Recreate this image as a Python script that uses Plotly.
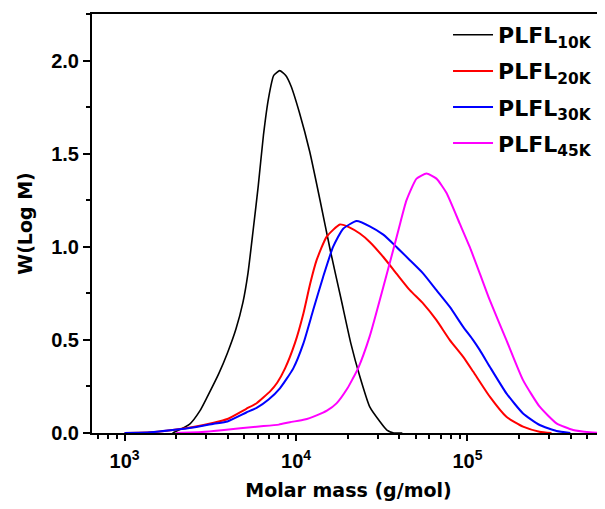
import numpy as np
import plotly.graph_objects as go

logM_10k = [3.28, 3.38, 3.44, 3.48, 3.55, 3.60, 3.65, 3.69, 3.72, 3.75, 3.78, 3.81, 3.84, 3.87,
            3.905, 3.94, 3.97, 4.02, 4.08, 4.14, 4.20, 4.265, 4.32, 4.37, 4.43, 4.49, 4.53, 4.57, 4.62]
w_10k = [0.0, 0.048, 0.12, 0.19, 0.32, 0.43, 0.56, 0.70, 0.86, 1.09, 1.33, 1.60, 1.80, 1.92,
         1.946, 1.92, 1.865, 1.72, 1.51, 1.25, 0.98, 0.71, 0.48, 0.31, 0.14, 0.06, 0.015, 0.0, 0.0]

logM_20k = [3.00, 3.15, 3.28, 3.40, 3.52, 3.60, 3.71, 3.77, 3.85, 3.89, 3.936, 3.993, 4.043, 4.082,
            4.12, 4.178, 4.256, 4.314, 4.372, 4.43, 4.509, 4.586, 4.664, 4.742, 4.819, 4.897,
            4.975, 5.033, 5.13, 5.227, 5.324, 5.42, 5.49]
w_20k = [0.0, 0.004, 0.016, 0.032, 0.055, 0.075, 0.13, 0.16, 0.225, 0.27, 0.347, 0.481, 0.642, 0.80,
         0.928, 1.053, 1.12, 1.103, 1.071, 1.026, 0.945, 0.856, 0.767, 0.695, 0.606, 0.499,
         0.409, 0.33, 0.195, 0.087, 0.034, 0.007, 0.0]

logM_30k = [3.00, 3.15, 3.28, 3.40, 3.52, 3.60, 3.71, 3.77, 3.84, 3.906, 3.984, 4.043, 4.10, 4.158,
            4.216, 4.275, 4.353, 4.43, 4.509, 4.586, 4.664, 4.742, 4.819, 4.897, 4.975, 5.033,
            5.072, 5.13, 5.227, 5.324, 5.421, 5.519, 5.60]
w_30k = [0.0, 0.004, 0.016, 0.03, 0.05, 0.062, 0.11, 0.135, 0.18, 0.24, 0.347, 0.481, 0.66, 0.838,
         0.999, 1.097, 1.138, 1.11, 1.065, 0.999, 0.928, 0.856, 0.767, 0.677, 0.57, 0.499,
         0.445, 0.356, 0.213, 0.105, 0.043, 0.011, 0.0]

logM_45k = [3.30, 3.45, 3.58, 3.77, 3.90, 3.964, 4.05, 4.12, 4.18, 4.236, 4.30, 4.33, 4.362, 4.43,
            4.509, 4.566, 4.60, 4.644, 4.703, 4.761, 4.819, 4.877, 4.955, 5.013, 5.072, 5.13,
            5.227, 5.324, 5.421, 5.519, 5.616, 5.713, 5.80]
w_45k = [0.0, 0.005, 0.016, 0.034, 0.045, 0.058, 0.072, 0.095, 0.12, 0.159, 0.24, 0.29, 0.347, 0.52,
         0.784, 0.98, 1.10, 1.249, 1.366, 1.393, 1.366, 1.29, 1.124, 0.999, 0.856, 0.713,
         0.499, 0.284, 0.141, 0.052, 0.016, 0.004, 0.0]

names = ["PLFL<sub>10K</sub>", "PLFL<sub>20K</sub>", "PLFL<sub>30K</sub>", "PLFL<sub>45K</sub>"]
colors = ["#000000", "#ff0000", "#0000ff", "#ff00ff"]
widths = [1.6, 2.0, 2.0, 2.0]
series = [(logM_10k, w_10k), (logM_20k, w_20k), (logM_30k, w_30k), (logM_45k, w_45k)]

x_tickvals = [1e3, 1e4, 1e5]
x_ticktext = ["10<sup>3</sup>", "10<sup>4</sup>", "10<sup>5</sup>"]
x_minor = [700, 800, 900, 2000, 3000, 4000, 5000, 6000, 7000, 8000, 9000,
           20000, 30000, 40000, 50000, 60000, 70000, 80000, 90000,
           200000, 300000, 400000, 500000, 600000]

fig = go.Figure()
for i, ((lm, w), nm, c, lw) in enumerate(zip(series, names, colors, widths)):
    fig.add_trace(go.Scatter(
        x=10 ** np.array(lm), y=w, mode="lines", name=nm, legendgroup=f"g{i}",
        line=dict(color=c, width=lw, shape="spline", smoothing=0.5),
    ))

tick_font = dict(family="Liberation Sans, Arial", size=20, color="black", weight="bold")
title_font = dict(family="DejaVu Sans", size=19, color="black", weight="bold")

# the page body adds an 8px offset, so the figure is sized to end at the window edge
fig.update_layout(
    width=597, height=501,
    margin=dict(l=84, r=0, t=6, b=76),
    paper_bgcolor="white", plot_bgcolor="white",
    showlegend=True,
    legend=dict(
        x=0.694, y=1.0, xanchor="left", yanchor="top",
        font=dict(family="DejaVu Sans", size=22, color="black", weight="bold"),
        bgcolor="rgba(0,0,0,0)", traceorder="grouped", tracegroupgap=4.5,
        itemwidth=40,
    ),
    xaxis=dict(
        type="log", range=[2.81, 5.802], automargin=False,
        showgrid=False, zeroline=False,
        showline=True, linecolor="black", linewidth=2, mirror=True,
        ticks="outside", ticklen=6, tickwidth=2, tickcolor="black",
        tickvals=x_tickvals, ticktext=x_ticktext, tickfont=tick_font,
        ticklabelstandoff=3,
        minor=dict(tickvals=x_minor, ticks="outside", ticklen=4, tickwidth=1.5, tickcolor="black"),
        title=dict(text="Molar mass (g/mol)", font=title_font, standoff=13),
    ),
    yaxis=dict(
        range=[0, 2.25], automargin=False,
        showgrid=False, zeroline=False,
        showline=True, linecolor="black", linewidth=2,
        ticks="outside", ticklen=7, tickwidth=2, tickcolor="black",
        dtick=0.5, tick0=0, tickformat=".1f", tickfont=tick_font,
        minor=dict(dtick=0.25, tick0=0, ticks="outside", ticklen=4, tickwidth=1.5, tickcolor="black"),
        title=dict(text="W(Log M)", font=title_font, standoff=14),
    ),
)

fig.write_html("out.html")
